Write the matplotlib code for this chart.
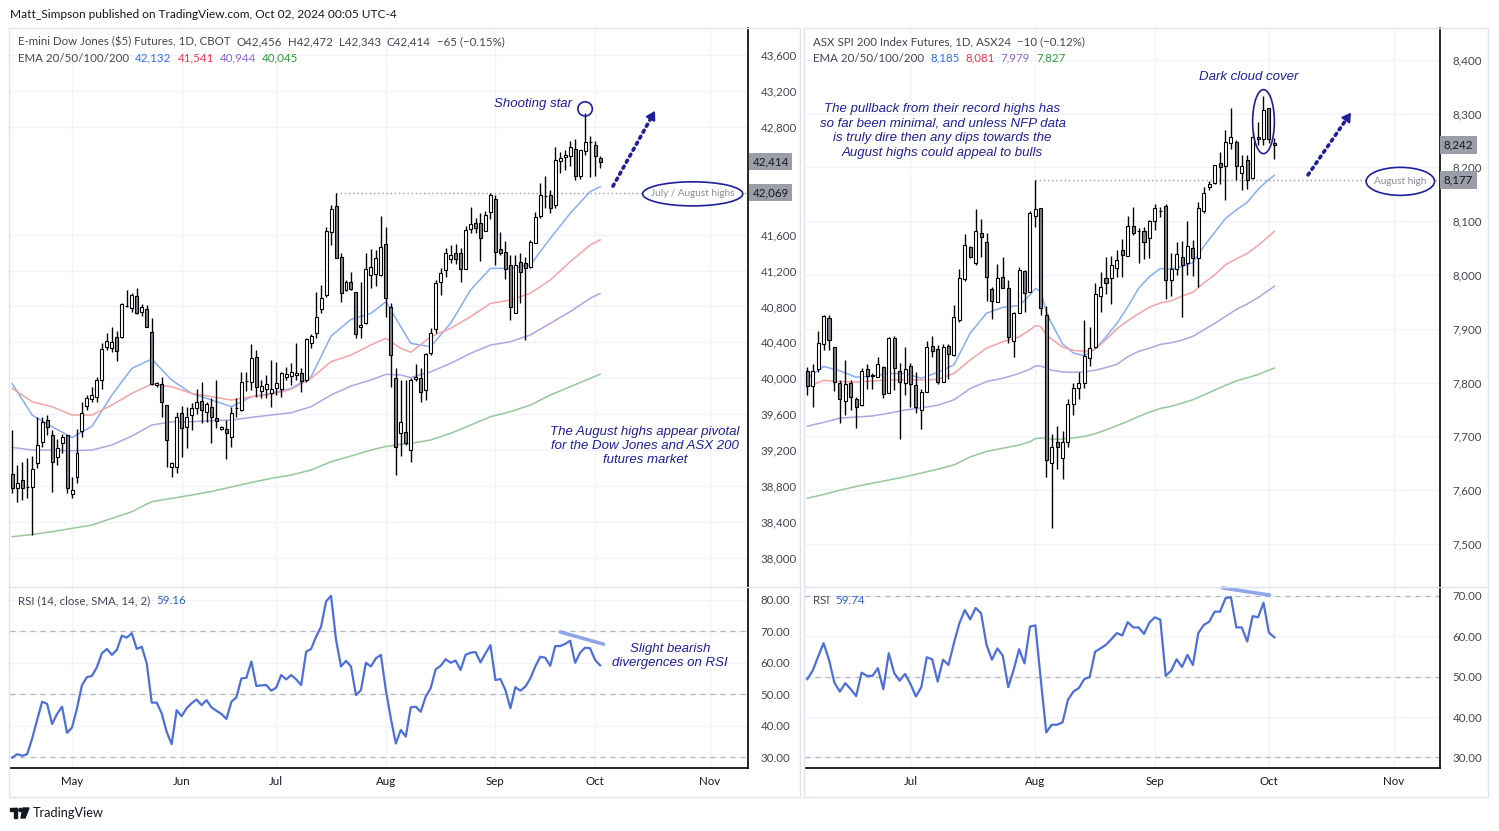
import numpy as np
import matplotlib
matplotlib.use("Agg")
import matplotlib.pyplot as plt
from matplotlib.patches import Ellipse, Rectangle, Circle, Polygon
from matplotlib.lines import Line2D
from matplotlib.transforms import Affine2D, blended_transform_factory

W, H = 1499, 831

# ---------------- E-mini Dow futures (left) ----------------
dow_open = [38930, 38774, 38867, 38785, 38785, 39052, 39286, 39535, 39368, 39127,
            39275, 39368, 38711, 38904, 39416, 39691, 39765, 39795, 39980, 40344,
            40333, 40455, 40463, 40804, 40778, 40916, 40734, 40775, 40511, 39921,
            39936, 39698, 39015, 39008, 39609, 39453, 39591, 39665, 39747, 39628,
            39676, 39554, 39431, 39431, 39342, 39665, 39647, 39970, 39962, 40233,
            39862, 39877, 39840, 39888, 39877, 40011, 40025, 40033, 40055, 39981,
            40389, 40500, 40768, 40927, 41625, 41918, 41347, 40983, 41072, 40957,
            40567, 40619, 41150, 41157, 41150, 41492, 40797, 40000, 39394, 39405,
            39201, 39988, 40007, 39869, 40278, 40545, 41076, 41206, 41324, 41391,
            41391, 41213, 41659, 41733, 41733, 41644, 41855, 41993, 41436, 41410,
            41261, 40723, 41298, 41287, 41235, 41510, 41807, 42030, 42041, 41929,
            42423, 42460, 42475, 42549, 42252, 42531, 42627, 42598, 42456]
dow_high = [39424, 39034, 39071, 39108, 39134, 39572, 39572, 39591, 39424, 39320,
            39379, 39368, 38904, 39435, 39739, 39813, 39906, 40017, 40389, 40500,
            40567, 40530, 40834, 40983, 40946, 41001, 40827, 40816, 40667, 39962,
            40017, 39702, 39071, 39628, 39691, 39683, 39721, 39876, 39962, 39740,
            39777, 39981, 39470, 39535, 39684, 39777, 40066, 40074, 40382, 40315,
            39981, 40037, 40204, 40185, 40074, 40129, 40166, 40389, 40111, 40445,
            40493, 40965, 41039, 41688, 41930, 42069, 41391, 41094, 41187, 40964,
            41076, 41391, 41436, 41428, 41807, 41681, 40834, 40111, 39981, 39981,
            40000, 40159, 40111, 40278, 40556, 41094, 41224, 41447, 41484, 41495,
            41447, 41696, 41911, 41781, 41837, 41866, 42067, 42041, 41633, 41533,
            41372, 41372, 41391, 41354, 41540, 41855, 42171, 42252, 42097, 42579,
            42516, 42542, 42646, 42661, 42542, 42950, 42698, 42646, 42472]
dow_low = [38718, 38626, 38644, 38663, 38254, 38997, 39238, 39368, 38737, 39034,
           39164, 38718, 38663, 38830, 39350, 39646, 39739, 39739, 39877, 40315,
           40296, 40196, 40444, 40790, 40741, 40715, 40693, 40567, 39925, 39900,
           39572, 39015, 38904, 38941, 39127, 39220, 39424, 39602, 39506, 39517,
           39275, 39443, 39420, 39097, 39238, 39565, 39640, 39862, 39869, 39795,
           39777, 39777, 39684, 39814, 39795, 39981, 39925, 39981, 39851, 39962,
           40334, 40445, 40731, 40908, 41484, 41336, 40853, 40975, 40983, 40445,
           40445, 40610, 41002, 41028, 41140, 40686, 39907, 38923, 39134, 39260,
           39072, 39970, 39739, 39758, 40259, 40500, 40927, 41131, 41280, 41273,
           41076, 41213, 41621, 41614, 41310, 41644, 41770, 41261, 41372, 41102,
           40649, 40723, 40842, 40426, 41224, 41503, 41781, 41892, 41844, 41892,
           42282, 42319, 42364, 42208, 42215, 42486, 42238, 42252, 42343]
dow_close = [38774, 38830, 38774, 38785, 38985, 39257, 39509, 39461, 39071, 39220,
             39342, 38774, 38756, 39164, 39617, 39776, 39810, 39980, 40322, 40418,
             40407, 40307, 40823, 40804, 40927, 40723, 40790, 40574, 39936, 39943,
             39735, 39312, 39052, 39572, 39442, 39565, 39665, 39739, 39647, 39714,
             39572, 39528, 39461, 39387, 39610, 39665, 39955, 39970, 40222, 39907,
             39918, 39936, 39877, 39944, 40063, 40048, 40074, 40055, 39973, 40434,
             40471, 40686, 40890, 41640, 41881, 41336, 40946, 41072, 40990, 40493,
             40593, 41213, 41235, 41335, 41458, 40890, 40259, 39231, 39517, 39283,
             39981, 40018, 39851, 40266, 40500, 41065, 41176, 41399, 41372, 41324,
             41213, 41651, 41718, 41670, 41558, 41818, 42041, 41410, 41399, 41213,
             40790, 41261, 41187, 41224, 41521, 41800, 42041, 42030, 41892, 42431,
             42449, 42486, 42579, 42252, 42542, 42635, 42627, 42479, 42414]

dow_ema_bars = [0, 4, 8, 12, 16, 20, 24, 28, 32, 36, 40, 44, 48, 52, 56, 60,
                64, 68, 72, 75, 78, 80, 84, 88, 92, 96, 100, 104, 108, 112, 116, 118]
dow_ema20 = [39940, 39590, 39461, 39340, 39465, 39813, 40110, 40214, 39980, 39832,
             39758, 39684, 39795, 39832, 39888, 40018, 40470, 40656, 40723, 40853,
             40575, 40389, 40352, 40612, 40983, 41224, 41224, 41261, 41558, 41837,
             42078, 42132]
dow_ema50 = [39888, 39739, 39683, 39591, 39591, 39702, 39832, 39936, 39906, 39832,
             39795, 39758, 39795, 39821, 39877, 39999, 40185, 40259, 40371, 40445,
             40333, 40290, 40463, 40556, 40686, 40834, 40871, 40946, 41094, 41298,
             41484, 41541]
dow_ema100 = [39231, 39201, 39201, 39193, 39201, 39257, 39357, 39479, 39516, 39516,
              39528, 39535, 39565, 39591, 39617, 39684, 39814, 39914, 39981, 40044,
              40037, 40007, 40073, 40166, 40278, 40370, 40407, 40482, 40612, 40742,
              40890, 40944]
dow_ema200 = [38236, 38260, 38292, 38329, 38366, 38440, 38514, 38626, 38663, 38700,
              38740, 38790, 38840, 38886, 38923, 38979, 39071, 39134, 39201, 39240,
              39265, 39275, 39313, 39387, 39479, 39572, 39628, 39702, 39813, 39906,
              39999, 40045]

dow_rsi = [29.8, 30.9, 30.4, 30.9, 35.9, 41.8, 47.6, 46.9, 40.5, 43.7,
           46.0, 37.7, 39.4, 45.5, 52.9, 55.4, 55.8, 58.6, 63.0, 64.4,
           62.5, 64.1, 68.6, 68.0, 69.4, 64.4, 65.1, 59.8, 47.3, 47.3,
           43.9, 38.0, 34.1, 44.9, 43.0, 45.5, 47.1, 48.3, 46.5, 48.1,
           45.8, 44.7, 43.7, 42.1, 47.6, 49.0, 55.0, 55.2, 60.4, 52.6,
           52.8, 52.9, 51.1, 52.1, 56.1, 54.7, 56.1, 54.7, 52.9, 63.5,
           64.4, 68.3, 71.5, 79.5, 81.3, 67.3, 58.8, 60.6, 58.8, 49.7,
           51.3, 60.0, 58.8, 61.4, 62.5, 51.3, 42.3, 34.3, 38.6, 36.5,
           45.8, 46.0, 44.4, 49.2, 51.9, 57.9, 59.0, 61.1, 60.0, 60.7,
           57.7, 62.5, 63.2, 63.4, 60.1, 63.0, 65.6, 54.5, 54.8, 51.3,
           45.5, 52.2, 51.1, 52.4, 55.0, 58.8, 61.9, 61.6, 59.0, 65.3,
           65.3, 66.0, 67.0, 60.0, 63.2, 64.8, 64.6, 60.9, 59.16]

dow_months = ["May", "Jun", "Jul", "Aug", "Sep", "Oct", "Nov"]
dow_month_bars = [12, 34, 53, 75, 97, 117, 140]
dow_price_ticks = [43600, 43200, 42800, 41600, 41200, 40800, 40400, 40000,
                   39600, 39200, 38800, 38400, 38000]
dow_aug_high = 42069

# ---------------- ASX SPI 200 futures (right) ----------------
asx_open = [7822, 7793, 7825, 7871, 7920, 7866, 7799, 7765, 7799, 7770,
            7758, 7825, 7813, 7811, 7829, 7780, 7882, 7822, 7800, 7831,
            7796, 7749, 7782, 7868, 7862, 7802, 7868, 7851, 7916, 7992,
            8052, 8022, 8078, 8061, 7974, 7949, 7997, 7975, 7878, 7930,
            8008, 7969, 8110, 8124, 7926, 7650, 7690, 7660, 7690, 7760,
            7790, 7800, 7845, 7866, 7961, 7994, 7994, 8013, 8047, 8035,
            8091, 8081, 8081, 8068, 8101, 8118, 8128, 7991, 8011, 8033,
            8022, 8050, 8031, 8118, 8163, 8171, 8209, 8203, 8246, 8248,
            8190, 8214, 8180, 8257, 8252, 8310, 8246]
asx_high = [7829, 7835, 7896, 7926, 7926, 7867, 7805, 7842, 7804, 7774,
            7827, 7834, 7817, 7847, 7830, 7884, 7887, 7836, 7867, 7837,
            7820, 7789, 7877, 7886, 7870, 7872, 7872, 7944, 8011, 8077,
            8053, 8122, 8104, 8078, 7977, 8021, 8033, 7991, 7932, 8015,
            8010, 8118, 8177, 8124, 7942, 7705, 7720, 7710, 7770, 7800,
            7820, 7916, 7904, 7985, 8006, 8034, 8035, 8047, 8066, 8109,
            8126, 8087, 8089, 8102, 8132, 8127, 8132, 8040, 8062, 8064,
            8101, 8065, 8135, 8163, 8174, 8205, 8229, 8270, 8310, 8251,
            8223, 8223, 8267, 8285, 8332, 8310, 8255]
asx_low = [7777, 7754, 7820, 7861, 7861, 7785, 7724, 7740, 7749, 7715,
           7757, 7789, 7789, 7811, 7771, 7780, 7786, 7695, 7777, 7755,
           7744, 7713, 7782, 7848, 7797, 7802, 7806, 7850, 7913, 7988,
           8031, 8019, 8034, 7951, 7918, 7949, 7975, 7873, 7848, 7929,
           7932, 7969, 8090, 7926, 7625, 7530, 7640, 7620, 7680, 7740,
           7770, 7790, 7830, 7864, 7932, 7965, 7947, 7996, 7996, 8035,
           8074, 8023, 8029, 8031, 8084, 8108, 7955, 7961, 8000, 7921,
           8000, 7999, 7977, 8115, 8158, 8169, 8169, 8140, 8234, 8176,
           8158, 8159, 8178, 8242, 8242, 8245, 8215]
asx_close = [7794, 7822, 7873, 7924, 7879, 7802, 7769, 7797, 7773, 7754,
             7822, 7813, 7813, 7834, 7779, 7882, 7827, 7802, 7825, 7797,
             7755, 7783, 7866, 7859, 7802, 7867, 7853, 7921, 7994, 8056,
             8033, 8081, 8070, 7996, 7952, 7994, 7975, 7884, 7930, 8009,
             7967, 8115, 8122, 7938, 7656, 7680, 7680, 7690, 7760, 7790,
             7800, 7850, 7864, 7965, 7978, 7985, 8019, 8027, 8037, 8091,
             8078, 8081, 8062, 8101, 8124, 8118, 7990, 8011, 8039, 8019,
             8054, 8032, 8124, 8153, 8169, 8205, 8201, 8248, 8257, 8203,
             8203, 8176, 8257, 8252, 8306, 8252, 8242]

asx_ema_bars = [0, 3, 6, 9, 12, 15, 18, 21, 24, 27, 30, 33, 36, 39, 41, 42, 43, 44,
                45, 47, 49, 51, 53, 55, 57, 59, 61, 63, 65, 67, 69, 71, 73, 75, 77,
                79, 81, 83, 85, 86]
asx_ema20 = [7808, 7830, 7822, 7810, 7812, 7817, 7817, 7808, 7819, 7833,
             7892, 7929, 7940, 7943, 7963, 7975, 7969, 7932, 7910, 7872,
             7855, 7850, 7862, 7885, 7910, 7941, 7975, 7997, 8012, 8011,
             8016, 8023, 8053, 8079, 8105, 8121, 8135, 8159, 8178, 8185]
asx_ema50 = [7792, 7804, 7802, 7801, 7803, 7805, 7805, 7805, 7806, 7817,
             7842, 7864, 7876, 7885, 7898, 7906, 7904, 7889, 7881, 7866,
             7860, 7858, 7862, 7880, 7900, 7915, 7928, 7940, 7948, 7952,
             7961, 7968, 7985, 8000, 8019, 8030, 8040, 8055, 8072, 8081]
asx_ema100 = [7719, 7726, 7734, 7736, 7738, 7743, 7749, 7753, 7758, 7768,
              7789, 7802, 7808, 7817, 7825, 7831, 7831, 7827, 7823, 7820,
              7819, 7820, 7823, 7828, 7834, 7848, 7858, 7864, 7871, 7874,
              7879, 7886, 7898, 7910, 7923, 7936, 7946, 7958, 7972, 7979]
asx_ema200 = [7585, 7592, 7600, 7607, 7613, 7619, 7625, 7632, 7639, 7647,
              7662, 7672, 7678, 7684, 7690, 7696, 7697, 7696, 7695, 7695,
              7697, 7700, 7705, 7712, 7720, 7728, 7737, 7745, 7752, 7756,
              7762, 7768, 7777, 7786, 7795, 7803, 7809, 7815, 7823, 7827]

asx_rsi = [49.4, 51.5, 55.0, 58.3, 54.2, 48.5, 46.3, 48.4, 46.9, 45.2,
           51.0, 50.2, 50.2, 52.1, 46.9, 55.8, 50.9, 49.0, 50.7, 48.2,
           45.1, 47.4, 54.8, 54.3, 48.8, 54.2, 52.9, 58.3, 63.2, 66.5,
           64.2, 67.0, 65.7, 57.9, 54.2, 57.0, 55.2, 47.4, 51.7, 56.8,
           53.3, 62.4, 62.7, 49.2, 36.2, 38.1, 38.1, 38.7, 44.3, 46.3,
           47.2, 49.4, 49.9, 56.2, 57.0, 57.9, 59.3, 60.8, 60.2, 63.5,
           62.2, 62.2, 60.6, 63.4, 64.7, 64.1, 50.2, 51.5, 54.3, 52.4,
           55.4, 52.9, 60.8, 62.8, 63.6, 66.1, 66.1, 69.4, 69.7, 62.2,
           62.2, 58.7, 65.0, 64.7, 68.3, 60.9, 59.74]

asx_months = ["Jul", "Aug", "Sep", "Oct", "Nov"]
asx_month_bars = [19, 42, 64, 85, 108]
asx_price_ticks = [8400, 8300, 8200, 8100, 8000, 7900, 7800, 7700, 7600, 7500]
asx_aug_high = 8177

# ---------------- styling ----------------
plt.rcParams["font.family"] = ["Lato", "DejaVu Sans"]
NAVY = "#1f1f9a"
TXT = "#434651"
EMA_COLORS = ["#86adf6", "#f5a3a5", "#b7a2df", "#97c79a"]
HEAD_COLORS = ["#2f6fe8", "#f23645", "#8e63d2", "#2e9a3a"]
ANN = dict(color=NAVY, style="italic", family=["Liberation Sans", "DejaVu Sans"])
FS = 8.3

fig = plt.figure(figsize=(W / 100, H / 100), dpi=100)
pix = Affine2D().scale(1 / W, -1 / H).translate(0, 1) + fig.transFigure


def px_rect(x0, y0, x1, y1):
    return [x0 / W, 1 - y1 / H, (x1 - x0) / W, (y1 - y0) / H]


def candles(ax, o, h, l, c, width):
    o, h, l, c = map(np.asarray, (o, h, l, c))
    x = np.arange(len(o))
    up = c >= o
    ax.vlines(x, l, h, color="black", lw=1, zorder=3)
    bottom = np.minimum(o, c)
    height = np.maximum(np.abs(c - o), 0.3)
    ax.bar(x, height, width, bottom, color=np.where(up, "white", "#7b7e88"),
           edgecolor="black", linewidth=0.8, zorder=4)


def style_axes(ax, xlim, ylim, months, month_bars, yticks, fmt, bottom=False):
    ax.set_xlim(*xlim)
    ax.set_ylim(*ylim)
    for s in ["top", "left", "bottom"]:
        ax.spines[s].set_visible(False)
    ax.spines["right"].set_color("black")
    ax.spines["right"].set_linewidth(1.2)
    ax.yaxis.tick_right()
    ax.set_yticks(yticks)
    ax.set_yticklabels([fmt(t) for t in yticks])
    ax.tick_params(axis="y", length=0, pad=9, labelsize=8.3, labelcolor=TXT)
    ax.set_xticks(month_bars)
    if bottom:
        ax.spines["bottom"].set_visible(True)
        ax.spines["bottom"].set_color("black")
        ax.spines["bottom"].set_linewidth(1.2)
        ax.set_xticklabels(months)
        ax.tick_params(axis="x", length=0, pad=6, labelsize=8.3, labelcolor="#131722")
    else:
        ax.tick_params(axis="x", length=0, labelbottom=False)
    ax.grid(True, color="#f0f3fa", lw=1)
    ax.set_axisbelow(True)


def price_box(ax, value, txt):
    tr = blended_transform_factory(ax.transAxes, ax.transData)
    ax.text(1.006, value, txt, transform=tr, ha="left", va="center", fontsize=8.3,
            color="#131722", clip_on=False,
            bbox=dict(boxstyle="square,pad=0.3", fc="#9b9ea8", ec="none"))


def dotted_arrow(ax, x0, y0, x1, y1):
    ax.plot([x0, x1 - (x1 - x0) * 0.1], [y0, y1 - (y1 - y0) * 0.1], color=NAVY,
            lw=2.6, linestyle=(0, (0.6, 1.3)), dash_capstyle="round", zorder=6)
    ax.annotate("", xy=(x1, y1), xytext=(x1 - (x1 - x0) * 0.15, y1 - (y1 - y0) * 0.15),
                arrowprops=dict(arrowstyle="-|>,head_length=0.5,head_width=0.3",
                                color=NAVY, lw=1.5), zorder=6)


# ---------------- panels ----------------
ax_l = fig.add_axes(px_rect(10, 28, 748, 586))
rsi_l = fig.add_axes(px_rect(10, 587, 748, 768))
ax_r = fig.add_axes(px_rect(805, 28, 1440, 586))
rsi_r = fig.add_axes(px_rect(805, 587, 1440, 768))
over = fig.add_axes([0, 0, 1, 1], zorder=10)
over.axis("off")


def header(x, y, parts, gap=6):
    """Write text segments one after another on a line."""
    prev = None
    for s, col in parts:
        if prev is None:
            prev = over.text(x, y, s, transform=pix, fontsize=FS, color=col, va="center")
        else:
            prev = over.annotate(s, xy=(1, 0.5), xycoords=prev, xytext=(gap, 0),
                                 textcoords="offset pixels", fontsize=FS, color=col,
                                 va="center", ha="left")


comma = lambda t: f"{t:,}"
two = lambda t: f"{t:.2f}"

dow_xlim = (-0.45, 147.7)
asx_xlim = (-0.42, 116.5)
style_axes(ax_l, dow_xlim, (37687, 43901), dow_months, dow_month_bars, dow_price_ticks, comma)
style_axes(rsi_l, dow_xlim, (26.5, 84.1), dow_months, dow_month_bars, [80, 70, 60, 50, 40, 30], two, True)
style_axes(ax_r, asx_xlim, (7422, 8459), asx_months, asx_month_bars, asx_price_ticks, comma)
style_axes(rsi_r, asx_xlim, (27.4, 72.2), asx_months, asx_month_bars, [70, 60, 50, 40, 30], two, True)

for ax, bars, emas in [(ax_l, dow_ema_bars, [dow_ema20, dow_ema50, dow_ema100, dow_ema200]),
                       (ax_r, asx_ema_bars, [asx_ema20, asx_ema50, asx_ema100, asx_ema200])]:
    for vals, col in zip(emas, EMA_COLORS):
        ax.plot(bars, vals, color=col, lw=1.1, zorder=2)

candles(ax_l, dow_open, dow_high, dow_low, dow_close, 0.6)
candles(ax_r, asx_open, asx_high, asx_low, asx_close, 0.56)

for rax, vals in [(rsi_l, dow_rsi), (rsi_r, asx_rsi)]:
    for b in [70, 50, 30]:
        rax.axhline(b, color="#b2b5be", lw=0.9, linestyle=(0, (4, 4)), zorder=1)
    rax.plot(np.arange(len(vals)), vals, color="#4e6fd9", lw=1.6, zorder=3)

# price labels on the axes
price_box(ax_l, dow_close[-1], comma(dow_close[-1]))
price_box(ax_l, dow_aug_high, comma(dow_aug_high))
price_box(ax_r, asx_close[-1], comma(asx_close[-1]))
price_box(ax_r, asx_aug_high, comma(asx_aug_high))

# ---------------- left annotations ----------------
ax_l.hlines(dow_aug_high, 65, dow_xlim[1], colors="#9598a1", linestyles=(0, (1, 2)), lw=1, zorder=2)
ax_l.add_patch(Ellipse((136.6, dow_aug_high - 15), 20.1, 268, fc="white", ec=NAVY, lw=1.2, zorder=7))
ax_l.text(136.6, dow_aug_high - 15, "July / August highs", ha="center", va="center",
          fontsize=7.2, color="#8a8d96", zorder=8)
ax_l.add_patch(Ellipse((115, dow_high[115] + 50), 2.9, 158, fc="none", ec=NAVY, lw=1.2, zorder=7))
ax_l.text(112.4, 43054, "Shooting star", ha="right", va="center", fontsize=9.5, **ANN)
dotted_arrow(ax_l, 120.6, 42140, 129.3, 43005)
ax_l.text(127.0, 39246, "The August highs appear pivotal\nfor the Dow Jones and ASX 200\nfutures market",
          ha="center", va="center", fontsize=9.5, linespacing=1.27, **ANN)

rsi_l.plot([110, 118.7], [69.8, 65.9], color="#8fa5ea", lw=2.6, solid_capstyle="round", zorder=4)
rsi_l.text(132.0, 62.2, "Slight bearish\ndivergences on RSI", ha="center", va="center",
           fontsize=9.5, linespacing=1.27, **ANN)

# ---------------- right annotations ----------------
ax_r.hlines(asx_aug_high, 42, asx_xlim[1], colors="#9598a1", linestyles=(0, (1, 2)), lw=1, zorder=2)
ax_r.add_patch(Ellipse((109.2, asx_aug_high - 3), 12.6, 52, fc="white", ec=NAVY, lw=1.2, zorder=7))
ax_r.text(109.2, asx_aug_high - 3, "August high", ha="center", va="center",
          fontsize=7.2, color="#8a8d96", zorder=8)
ax_r.add_patch(Ellipse((84.0, 8285), 4.0, 119, fc="none", ec=NAVY, lw=1.2, zorder=7))
ax_r.text(81.2, 8368, "Dark cloud cover", ha="center", va="center", fontsize=9.5, **ANN)
dotted_arrow(ax_r, 92.2, 8186, 100.4, 8306)
ax_r.text(24.9, 8268, "The pullback from their record highs has\nso far been minimal, and unless NFP data\n"
          "is truly dire then any dips towards the\nAugust highs could appeal to bulls",
          ha="center", va="center", fontsize=9.5, linespacing=1.3, **ANN)
rsi_r.plot([76.4, 85.1], [72.0, 70.2], color="#8fa5ea", lw=2.6, solid_capstyle="round",
           zorder=4, clip_on=False)

# ---------------- frames & headers ----------------
for x0, x1 in [(9.5, 800.5), (804.5, 1488.5)]:
    fig.add_artist(Rectangle((x0, 27.5), x1 - x0, 769, transform=pix, fill=False,
                             ec="#e0e3eb", lw=1))
fig.add_artist(Line2D([10, 800], [586.5, 586.5], transform=pix, color="#e0e3eb", lw=1))
fig.add_artist(Line2D([805, 1488], [586.5, 586.5], transform=pix, color="#e0e3eb", lw=1))

over.text(10, 14, "Matt_Simpson published on TradingView.com, Oct 02, 2024 00:05 UTC-4",
          transform=pix, fontsize=8.6, color="#131722", va="center")

header(18, 42, [("E-mini Dow Jones ($5) Futures, 1D, CBOT", TXT),
                (f"O{comma(dow_open[-1])}", TXT), (f"H{comma(dow_high[-1])}", TXT),
                (f"L{comma(dow_low[-1])}", TXT), (f"C{comma(dow_close[-1])}", TXT),
                ("\u221265 (\u22120.15%)", TXT)])
header(18, 58, [("EMA 20/50/100/200", TXT)] +
       [(comma(v[-1]), c) for v, c in zip([dow_ema20, dow_ema50, dow_ema100, dow_ema200], HEAD_COLORS)])
header(18, 601, [("RSI (14, close, SMA, 14, 2)", TXT), (f"{dow_rsi[-1]:.2f}", "#2f5fd0")])

header(813, 42, [("ASX SPI 200 Index Futures, 1D, ASX24", TXT), ("\u221210 (\u22120.12%)", TXT)])
header(813, 58, [("EMA 20/50/100/200", TXT)] +
       [(comma(v[-1]), c) for v, c in zip([asx_ema20, asx_ema50, asx_ema100, asx_ema200], HEAD_COLORS)])
header(813, 601, [("RSI", TXT), (f"{asx_rsi[-1]:.2f}", "#2f5fd0")])

# TradingView logo
fig.add_artist(Rectangle((10, 808), 7, 3, transform=pix, color="#131722"))
fig.add_artist(Rectangle((14, 808), 3, 10, transform=pix, color="#131722"))
fig.add_artist(Circle((20.5, 810), 1.6, transform=pix, color="#131722"))
fig.add_artist(Polygon([(23, 808), (29, 808), (25, 818), (21, 818)], transform=pix, color="#131722"))
over.text(33, 813, "TradingView", transform=pix, fontsize=9.2, color="#131722", va="center")

fig.savefig("out.png", dpi=100)
